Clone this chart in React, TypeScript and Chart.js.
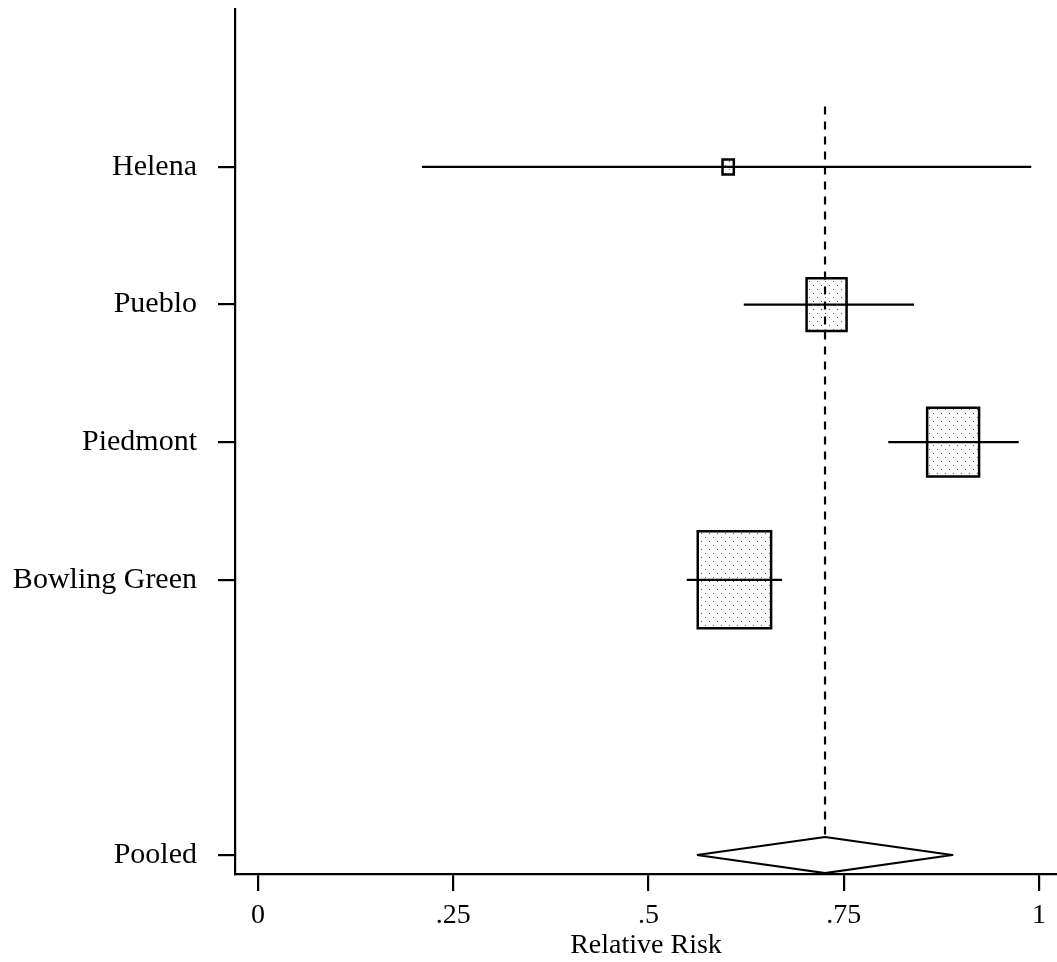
import React, { useEffect, useRef } from "react";
import { Chart, registerables } from "chart.js";

Chart.register(...registerables);

// ---- data ----
const studies = ["Helena", "Pueblo", "Piedmont", "Bowling Green"];
const studyRows = [1, 2, 3, 4];
const estimates = [0.602, 0.728, 0.89, 0.61];
const lowerCI = [0.21, 0.622, 0.807, 0.549];
const upperCI = [0.99, 0.84, 0.974, 0.671];
const weights = [1.3, 16.3, 27.5, 54.9];
const pooledLabel = "Pooled";
const pooledRow = 6;
const pooledEstimate = 0.726;
const pooledLower = 0.562;
const pooledUpper = 0.889;
const xTicks = [0, 0.25, 0.5, 0.75, 1];
const xTickLabels = ["0", ".25", ".5", ".75", "1"];
const xTitle = "Relative Risk";

// ---- display constants ----
const BOX_HALF_W_PER_SQRT_W = 0.00634;
const BOX_HALF_H_PER_SQRT_W = 0.0476;
const DIAMOND_HALF_H = 0.131;
const NULL_LINE_TOP = 0.56;
const FONT = "'Liberation Serif', 'DejaVu Serif', serif";

function makeDotPattern(): CanvasPattern | string {
  const c = document.createElement("canvas");
  c.width = 8;
  c.height = 8;
  const g = c.getContext("2d");
  if (!g) return "#fff";
  g.fillStyle = "#ffffff";
  g.fillRect(0, 0, 8, 8);
  g.fillStyle = "#5a5a5a";
  g.fillRect(1, 1, 1, 1);
  g.fillRect(5, 5, 1, 1);
  const p = g.createPattern(c, "repeat");
  return p || "#fff";
}

export default function App() {
  const ref = useRef<HTMLCanvasElement | null>(null);

  useEffect(() => {
    if (!ref.current) return;
    const pattern = makeDotPattern();
    const datasets: any[] = [];

    studies.forEach((name, i) => {
      const y = studyRows[i];
      const hw = Math.sqrt(weights[i]) * BOX_HALF_W_PER_SQRT_W;
      const hh = Math.sqrt(weights[i]) * BOX_HALF_H_PER_SQRT_W;
      const x = estimates[i];
      datasets.push({
        label: name + " box",
        data: [
          { x: x - hw, y: y - hh },
          { x: x + hw, y: y - hh },
          { x: x + hw, y: y + hh },
          { x: x - hw, y: y + hh },
          { x: x - hw, y: y - hh },
          { x: x + hw, y: y - hh },
        ],
        borderColor: "#000",
        borderWidth: 2.5,
        backgroundColor: pattern,
        fill: "shape",
        pointRadius: 0,
        tension: 0,
        borderJoinStyle: "miter",
        order: 4,
      });
      datasets.push({
        label: name + " CI",
        data: [
          { x: lowerCI[i], y },
          { x: upperCI[i], y },
        ],
        borderColor: "#000",
        borderWidth: 2.2,
        fill: false,
        pointRadius: 0,
        order: 2,
      });
    });

    datasets.push({
      label: "null line",
      data: [
        { x: pooledEstimate, y: NULL_LINE_TOP },
        { x: pooledEstimate, y: pooledRow - DIAMOND_HALF_H },
      ],
      borderColor: "#000",
      borderWidth: 2.2,
      borderDash: [8, 7],
      fill: false,
      pointRadius: 0,
      order: 1,
    });

    datasets.push({
      label: pooledLabel,
      data: [
        { x: pooledLower, y: pooledRow },
        { x: pooledEstimate, y: pooledRow - DIAMOND_HALF_H },
        { x: pooledUpper, y: pooledRow },
        { x: pooledEstimate, y: pooledRow + DIAMOND_HALF_H },
        { x: pooledLower, y: pooledRow },
      ],
      borderColor: "#000",
      borderWidth: 2.2,
      backgroundColor: "#fff",
      fill: "shape",
      pointRadius: 0,
      borderJoinStyle: "round",
      order: 0,
    });

    const yTickVals = [...studyRows, pooledRow];
    const yTickLabels = [...studies, pooledLabel];

    const chart = new Chart(ref.current, {
      type: "line",
      data: { datasets },
      options: {
        animation: false,
        responsive: false,
        devicePixelRatio: 1,
        layout: { padding: { top: 9, right: 0, left: 0, bottom: 0 } },
        plugins: {
          legend: { display: false },
          tooltip: { enabled: false },
        },
        events: [],
        scales: {
          x: {
            type: "linear",
            min: -0.0294,
            max: 1.023,
            afterBuildTicks: (s: any) => {
              s.ticks = xTicks.map((v) => ({ value: v }));
            },
            afterFit: (s: any) => {
              s.height = 88;
              s.paddingLeft = 0;
              s.paddingRight = 0;
              s.paddingTop = 0;
              s.paddingBottom = 0;
            },
            ticks: {
              autoSkip: false,
              maxRotation: 0,
              color: "#000",
              padding: 8,
              font: { family: FONT, size: 28 },
              callback: (v: any) => {
                const idx = xTicks.indexOf(Number(v));
                return idx >= 0 ? xTickLabels[idx] : "";
              },
            },
            grid: {
              drawOnChartArea: false,
              drawTicks: true,
              tickLength: 17,
              color: "#000",
              lineWidth: 2.2,
            },
            border: { display: true, color: "#000", width: 2.2 },
            title: {
              display: true,
              text: xTitle,
              color: "#000",
              font: { family: FONT, size: 28 },
              padding: { top: 0, bottom: 0 },
            },
          },
          y: {
            type: "linear",
            reverse: true,
            min: -0.148,
            max: 6.138,
            afterBuildTicks: (s: any) => {
              s.ticks = yTickVals.map((v) => ({ value: v }));
            },
            afterFit: (s: any) => {
              s.width = 235;
              s.paddingLeft = 0;
              s.paddingRight = 0;
              s.paddingTop = 0;
              s.paddingBottom = 0;
            },
            ticks: {
              autoSkip: false,
              color: "#000",
              padding: 21,
              font: { family: FONT, size: 30 },
              callback: (v: any) => {
                const idx = yTickVals.indexOf(Number(v));
                return idx >= 0 ? yTickLabels[idx] : "";
              },
            },
            grid: {
              drawOnChartArea: false,
              drawTicks: true,
              tickLength: 17,
              color: "#000",
              lineWidth: 2.2,
            },
            border: { display: true, color: "#000", width: 2.2 },
          },
        },
      } as any,
    });

    return () => chart.destroy();
  }, []);

  return (
    <div style={{ position: "fixed", left: 0, top: 0, width: 1057, height: 962, background: "#fff" }}>
      <canvas ref={ref} width={1057} height={962} style={{ width: 1057, height: 962, display: "block" }} />
    </div>
  );
}
